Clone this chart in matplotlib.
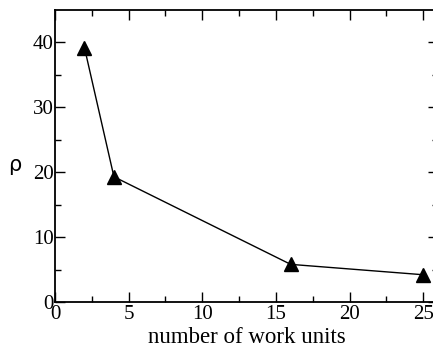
import matplotlib
matplotlib.use("Agg")
import matplotlib.pyplot as plt

# number of work units vs rho
units = [2, 4, 16, 25]
rho = [39.2, 19.3, 5.8, 4.2]

fig = plt.figure(figsize=(4.33, 3.49), dpi=100)
# right spine sits just past the image edge, as in the reference
ax = fig.add_axes([55 / 433, 47 / 349, 383 / 433, 292 / 349])

ax.plot(units, rho, color="black", lw=1.0, marker="^", markersize=10,
        markerfacecolor="black", markeredgecolor="black")

ax.set_xlim(0, 26)
ax.set_ylim(0, 45)
ax.set_xticks([0, 5, 10, 15, 20, 25])
ax.set_xticks([2.5, 7.5, 12.5, 17.5, 22.5], minor=True)
ax.set_yticks([0, 10, 20, 30, 40])
ax.set_yticks([5, 15, 25, 35], minor=True)

ax.tick_params(which="both", direction="in", top=True, right=True,
               labelsize=15, width=1.0)
ax.tick_params(axis="x", pad=2)
ax.tick_params(axis="y", pad=1)
ax.tick_params(which="major", length=7)
ax.tick_params(which="minor", length=4)
for lab in ax.get_xticklabels() + ax.get_yticklabels():
    lab.set_family("Liberation Serif")
for s in ax.spines.values():
    s.set_linewidth(1.3)

ax.set_xlabel("number of work units", family="Liberation Serif", fontsize=16.5, labelpad=2)
ax.set_ylabel("ρ", family="DejaVu Sans", fontsize=15, rotation=0, ha="center", va="center")
ax.yaxis.set_label_coords(-0.106, 0.47)

fig.savefig("out.png", dpi=100)
